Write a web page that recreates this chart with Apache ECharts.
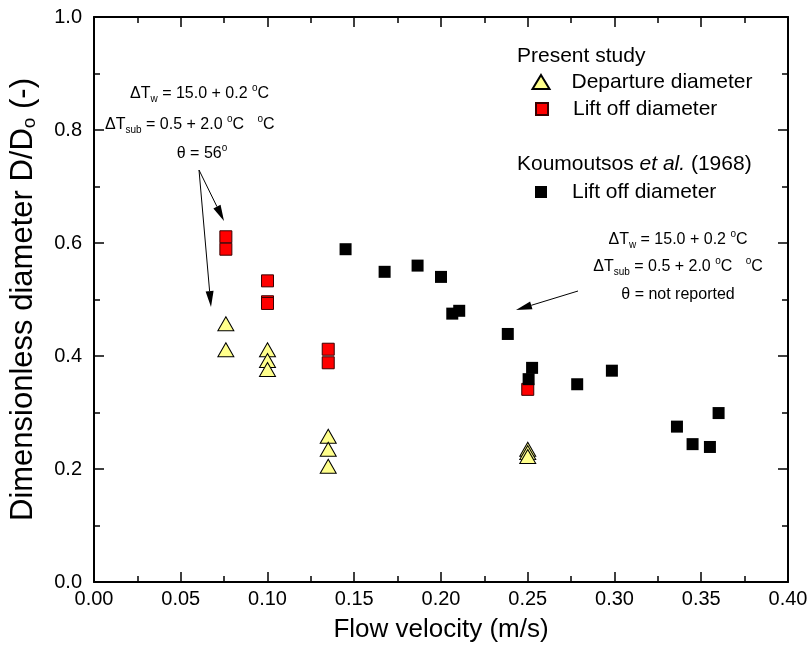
<!DOCTYPE html>
<html>
<head>
<meta charset="utf-8">
<script src="https://cdn.jsdelivr.net/npm/echarts@6.0.0/dist/echarts.min.js"></script>
<style>html,body{margin:0;padding:0;background:#fff}#c{width:812px;height:651px}</style>
</head>
<body>
<div id="c"></div>
<script>
// ---- data ----
const xTicks = [0, 0.05, 0.10, 0.15, 0.20, 0.25, 0.30, 0.35, 0.40];
const yTicks = [0, 0.2, 0.4, 0.6, 0.8, 1.0];

const departureX = [0.076, 0.076, 0.10, 0.10, 0.10, 0.135, 0.135, 0.135, 0.25, 0.25, 0.25];
const departureY = [0.457, 0.411, 0.411, 0.392, 0.376, 0.258, 0.235, 0.205, 0.235, 0.229, 0.222];

const liftX = [0.076, 0.076, 0.10, 0.10, 0.10, 0.135, 0.135, 0.25];
const liftY = [0.611, 0.589, 0.533, 0.496, 0.493, 0.412, 0.388, 0.341];

const koumX = [0.145, 0.1675, 0.1865, 0.200, 0.2065, 0.2105, 0.2385, 0.2505, 0.2525, 0.2785, 0.2985, 0.336, 0.345, 0.355, 0.360];
const koumY = [0.589, 0.549, 0.560, 0.540, 0.475, 0.480, 0.439, 0.359, 0.379, 0.350, 0.374, 0.275, 0.244, 0.239, 0.299];

const zip = (xs, ys) => xs.map((x, i) => [x, ys[i]]);

const FONT = '"Liberation Sans", Arial, sans-serif';
const chart = echarts.init(document.getElementById('c'), null, {renderer: 'canvas'});

const axisCommon = {
  axisLine: {show: true, onZero: false, lineStyle: {color: '#000', width: 2}},
  axisTick: {show: true, inside: true, length: 10, lineStyle: {color: '#000', width: 1.5}},
  minorTick: {show: true, splitNumber: 2, length: 6, lineStyle: {color: '#000', width: 1.5}},
  splitLine: {show: false}
};

const AF = 16;
const LF = 21;
const rich = {
  n: {fontSize: AF, fontFamily: FONT, color: '#000', lineHeight: 21, verticalAlign: 'middle'},
  sub: {fontSize: 10, fontFamily: FONT, color: '#000', lineHeight: 10, verticalAlign: 'bottom'},
  sup: {fontSize: 10, fontFamily: FONT, color: '#000', lineHeight: 10, verticalAlign: 'top'}
};

function txt(text, x, y, align) {
  return {type: 'text', x: x, y: y, style: {text: text, rich: rich, align: align || 'left', verticalAlign: 'middle', font: AF + 'px ' + FONT}};
}
function arrow(x1, y1, x2, y2) {
  const L = 16, W = 4;
  const a = Math.atan2(y2 - y1, x2 - x1);
  const bx = x2 - L * Math.cos(a), by = y2 - L * Math.sin(a);
  const px = -Math.sin(a) * W, py = Math.cos(a) * W;
  return [
    {type: 'line', shape: {x1: x1, y1: y1, x2: bx, y2: by}, style: {stroke: '#000', lineWidth: 1}},
    {type: 'polygon', shape: {points: [[x2, y2], [bx + px, by + py], [bx - px, by - py]]}, style: {fill: '#000'}}
  ];
}
function legendText(gap) {
  return {fontSize: LF, fontFamily: FONT, color: '#000', lineHeight: 22, padding: [0, 0, 0, gap]};
}

const option = {
  animation: false,
  backgroundColor: '#fff',
  grid: {left: 93, right: 24, top: 17, bottom: 69},
  xAxis: [
    Object.assign({}, axisCommon, {
      type: 'value', position: 'bottom', min: xTicks[0], max: xTicks[xTicks.length - 1], interval: 0.05,
      name: 'Flow velocity (m/s)', nameLocation: 'middle', nameGap: 35,
      nameTextStyle: {fontSize: 26, fontFamily: FONT, color: '#000'},
      axisLabel: {fontSize: 20, fontFamily: FONT, color: '#000', margin: 7, formatter: v => v.toFixed(2)}
    }),
    Object.assign({}, axisCommon, {
      type: 'value', position: 'top', min: xTicks[0], max: xTicks[xTicks.length - 1], interval: 0.05,
      axisLabel: {show: false}
    })
  ],
  yAxis: [
    Object.assign({}, axisCommon, {
      type: 'value', position: 'left', min: yTicks[0], max: yTicks[yTicks.length - 1], interval: 0.2,
      name: 'Dimensionless diameter D/D{s|o} (-)', nameLocation: 'middle', nameGap: 55,
      nameTextStyle: {fontSize: 31, fontFamily: FONT, color: '#000',
        rich: {s: {fontSize: 19, fontFamily: FONT, color: '#000', verticalAlign: 'bottom', lineHeight: 19}}},
      axisLabel: {fontSize: 20, fontFamily: FONT, color: '#000', margin: 12, formatter: v => v.toFixed(1)}
    }),
    Object.assign({}, axisCommon, {
      type: 'value', position: 'right', min: yTicks[0], max: yTicks[yTicks.length - 1], interval: 0.2,
      axisLabel: {show: false}
    })
  ],
  legend: [
    {data: [{name: 'Departure diameter', icon: 'triangle'}], left: 531.5, top: 71, padding: 0,
     itemWidth: 17, itemHeight: 14, textStyle: legendText(17)},
    {data: [{name: 'Lift off diameter', icon: 'rect'}], left: 535, top: 98, padding: 0,
     itemWidth: 12, itemHeight: 12, textStyle: legendText(20)},
    {data: [{name: 'Koumoutsos lift off', icon: 'rect'}], left: 535, top: 181, padding: 0,
     itemWidth: 12, itemHeight: 12, formatter: () => 'Lift off diameter', textStyle: legendText(20)}
  ],
  series: [
    {name: 'Departure diameter', type: 'scatter', symbol: 'triangle', symbolSize: [16, 14],
     data: zip(departureX, departureY),
     itemStyle: {color: '#ffff8c', borderColor: '#000', borderWidth: 1, opacity: 1}},
    {name: 'Lift off diameter', type: 'scatter', symbol: 'rect', symbolSize: 12,
     data: zip(liftX, liftY),
     itemStyle: {color: '#ff0000', borderColor: '#3a0000', borderWidth: 1, opacity: 1}},
    {name: 'Koumoutsos lift off', type: 'scatter', symbol: 'rect', symbolSize: 12,
     data: zip(koumX, koumY),
     itemStyle: {color: '#000', borderColor: '#000', borderWidth: 0, opacity: 1}}
  ],
  graphic: [
    {type: 'text', x: 517, y: 56, style: {text: 'Present study', font: LF + 'px ' + FONT, fill: '#000', verticalAlign: 'middle'}},
    {type: 'text', x: 517, y: 164, style: {text: 'Koumoutsos {i|et al.} (1968)', font: LF + 'px ' + FONT, fill: '#000', verticalAlign: 'middle',
      rich: {i: {fontStyle: 'italic', fontSize: LF, fontFamily: FONT, color: '#000'}}}},
    // left annotation
    txt('{n|ΔT}{sub|w}{n| = 15.0 + 0.2 }{sup|o}{n|C}', 130, 94),
    txt('{n|ΔT}{sub|sub}{n| = 0.5 + 2.0 }{sup|o}{n|C   }{sup|o}{n|C}', 105, 125),
    txt('{n|θ = 56}{sup|o}', 202, 154, 'center'),
    // right annotation
    txt('{n|ΔT}{sub|w}{n| = 15.0 + 0.2 }{sup|o}{n|C}', 678, 240, 'center'),
    txt('{n|ΔT}{sub|sub}{n| = 0.5 + 2.0 }{sup|o}{n|C   }{sup|o}{n|C}', 678, 267, 'center'),
    txt('{n|θ = not reported}', 678, 295, 'center')
  ].concat(arrow(578, 291, 516, 310), arrow(199, 170, 224, 221), arrow(199, 170, 211, 307))
};
chart.setOption(option);
</script>
</body>
</html>
